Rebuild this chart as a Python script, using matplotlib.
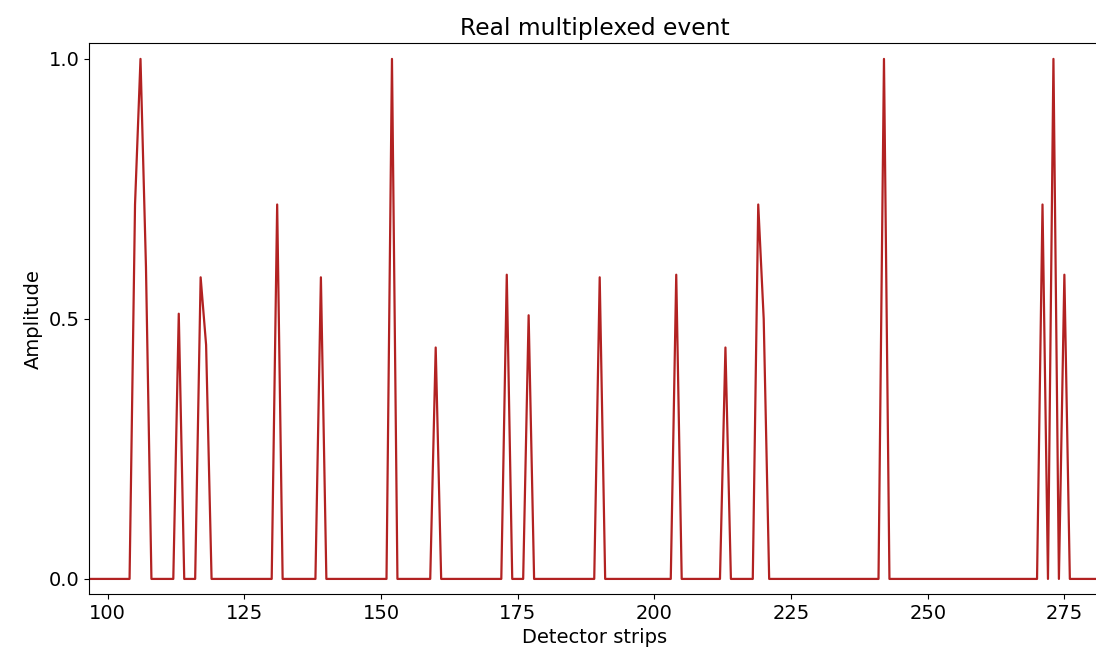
import numpy as np
import matplotlib
matplotlib.use('Agg')
import matplotlib.pyplot as plt

plt.rcParams['font.size'] = 14

# strips with a non zero amplitude, all other strips are 0
peak_strips = [105, 106, 107, 113, 117, 118, 131, 139, 152, 160, 173, 177,
               190, 204, 213, 219, 220, 242, 271, 273, 275]
peak_amps = [0.72, 1.0, 0.6, 0.51, 0.58, 0.45, 0.72, 0.58, 1.0, 0.445, 0.585, 0.507,
             0.58, 0.585, 0.445, 0.72, 0.5, 1.0, 0.72, 1.0, 0.585]

strips = np.arange(90, 290)
amplitude = np.zeros(len(strips))
for s, a in zip(peak_strips, peak_amps):
    amplitude[s - strips[0]] = a

fig = plt.figure(figsize=(10.96, 6.54), dpi=100)
ax = fig.add_axes([89 / 1096, 1 - 594 / 654, 1012 / 1096, (594 - 43.3) / 654])

ax.plot(strips, amplitude, color='firebrick', lw=1.6)
ax.set_xlim(96.58, 281.7)
ax.set_ylim(-0.029, 1.030)
ax.set_xticks([100, 125, 150, 175, 200, 225, 250, 275])
ax.set_yticks([0.0, 0.5, 1.0])
ax.set_title("Real multiplexed event")
ax.set_xlabel("Detector strips")
ax.set_ylabel("Amplitude")

plt.savefig("out.png", dpi=100)
